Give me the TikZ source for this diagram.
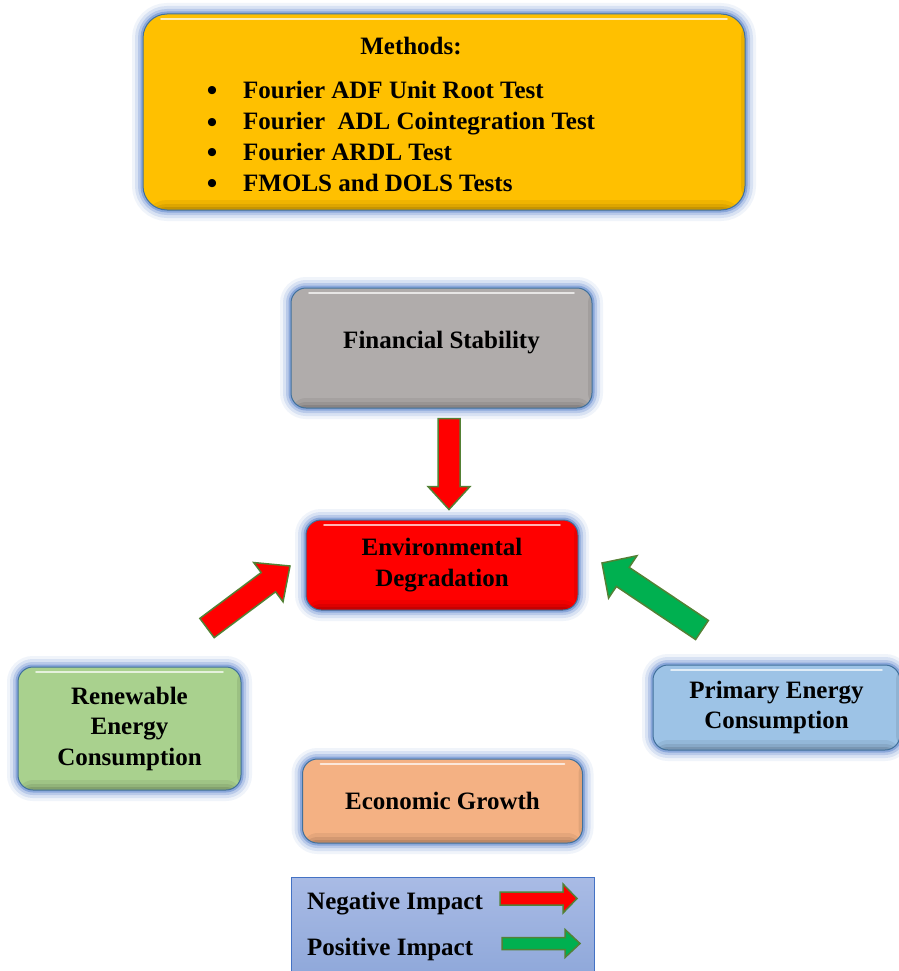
\documentclass[tikz,border=0pt]{standalone}
\usepackage{fontspec}
\setmainfont{Liberation Serif}
\usetikzlibrary{calc}
\definecolor{gold}{HTML}{FFC000}
\definecolor{stonegray}{HTML}{B0ACAB}
\definecolor{envred}{HTML}{FF0000}
\definecolor{renewgreen}{HTML}{A9D18E}
\definecolor{primblue}{HTML}{9DC3E6}
\definecolor{peach}{HTML}{F4B183}
\definecolor{glowblue}{HTML}{4472C4}
\definecolor{boxedge}{HTML}{41719C}
\definecolor{arrowedge}{HTML}{538135}
\definecolor{posgreen}{HTML}{00B050}
\definecolor{legtop}{HTML}{A9BBE5}
\definecolor{legbot}{HTML}{8FA8DA}
\tikzset{
  glowbox/.style={rectangle, rounded corners=15pt, draw=boxedge, line width=1pt, inner sep=0pt,
    preaction={draw=glowblue, line width=22pt, opacity=0.08},
    preaction={draw=glowblue, line width=16pt, opacity=0.14},
    preaction={draw=glowblue, line width=10pt, opacity=0.22},
    preaction={draw=glowblue, line width=5pt, opacity=0.4},
    path picture={
      \fill[black, opacity=0.06] ([yshift=10pt]path picture bounding box.south west) rectangle (path picture bounding box.south east);
      \fill[black, opacity=0.08] ([yshift=6pt]path picture bounding box.south west) rectangle (path picture bounding box.south east);
      \fill[black, opacity=0.10] ([yshift=3pt]path picture bounding box.south west) rectangle (path picture bounding box.south east);
      \fill[black, opacity=0.08] ([xshift=-4pt]path picture bounding box.north east) rectangle (path picture bounding box.south east);
      \draw[white, opacity=0.7, line width=1.6pt, line cap=round]
        ([xshift=18pt,yshift=-5pt]path picture bounding box.north west) -- ([xshift=-18pt,yshift=-5pt]path picture bounding box.north east);
    }},
  lbl/.style={font=\bfseries\fontsize{25}{30.5}\selectfont, align=center, text=black, inner sep=0pt},
  bul/.style={font=\bfseries\fontsize{30}{30}\selectfont, text=black, inner sep=0pt, text height=10pt, text depth=0pt, anchor=base},
  arrowline/.style={draw=arrowedge, line width=1.5pt, line join=miter},
}
\newcommand\blockarrow[6]{%
  \coordinate (ba-n) at ($(#2)!#5!(#1)$);
  \draw[arrowline, fill=#6] ($(#1)!#3!90:(#2)$) -- ($(ba-n)!#3!-90:(#1)$) -- ($(ba-n)!#4!-90:(#1)$)
    -- (#2) -- ($(ba-n)!#4!90:(#1)$) -- ($(ba-n)!#3!90:(#1)$) -- ($(#1)!#3!-90:(#2)$) -- cycle;
}
\begin{document}
\begin{tikzpicture}[x=1pt, y=-1pt]
\useasboundingbox (0,0) rectangle (898,971);

% Methods box
\node[glowbox, rounded corners=24pt, fill=gold, minimum width=602pt, minimum height=196pt] (methods) at (444,112) {};
\node[lbl] (mtitle) at (411,46) {Methods:};
\node[bul] (b1) at (212,101) {\textbullet};
\node[bul] (b2) at (212,132) {\textbullet};
\node[bul] (b3) at (212,162) {\textbullet};
\node[bul] (b4) at (212,193) {\textbullet};
\node[lbl, anchor=base west] (m1) at (243,99) {Fourier ADF Unit Root Test};
\node[lbl, anchor=base west] (m2) at (243,130) {Fourier\ \ ADL Cointegration Test};
\node[lbl, anchor=base west] (m3) at (243,160) {Fourier ARDL Test};
\node[lbl, anchor=base west] (m4) at (243,191) {FMOLS and DOLS Tests};

% Boxes
\node[glowbox, fill=stonegray, minimum width=301pt, minimum height=120pt] (fin) at (441.5,348) {};
\node[lbl] (fintext) at (441.5,343) {Financial Stability};

\node[glowbox, fill=envred, minimum width=272pt, minimum height=90pt, lbl] (env) at (442,565) {Environmental\\Degradation};

\node[glowbox, fill=renewgreen, minimum width=223pt, minimum height=123pt, lbl] (renew) at (129.5,728.5) {Renewable\\Energy\\Consumption};

\node[glowbox, fill=primblue, minimum width=247pt, minimum height=85pt, lbl] (prim) at (776.5,707.5) {Primary Energy\\Consumption};

\node[glowbox, fill=peach, minimum width=280pt, minimum height=84pt, lbl] (econ) at (442.5,801) {Economic Growth};

% Arrows
\coordinate (fs-tail) at ([yshift=-10pt]fin.south -| 449,0);
\coordinate (fs-tip) at ([yshift=10pt]env.north -| 449,0);
\blockarrow{fs-tail}{fs-tip}{11pt}{21pt}{23pt}{envred}

\coordinate (re-tail) at (207,628);
\coordinate (re-tip) at (290,566);
\blockarrow{re-tail}{re-tip}{12pt}{24.5pt}{27pt}{envred}

\coordinate (pe-tail) at (702,630);
\coordinate (pe-tip) at (602,563);
\blockarrow{pe-tail}{pe-tip}{11.5pt}{25.5pt}{25pt}{posgreen}

% Legend
\node[rectangle, draw=glowblue, line width=1pt, top color=legtop, bottom color=legbot, minimum width=302.5pt, minimum height=97.5pt, inner sep=0pt] (legend) at (442.75,926.25) {};
\node[lbl, anchor=base west] (negtext) at (307,909) {Negative Impact};
\node[lbl, anchor=base west] (postext) at (307,955) {Positive Impact};
\coordinate (neg-tail) at (500,898.5);
\coordinate (neg-tip) at (577,898.5);
\blockarrow{neg-tail}{neg-tip}{6.5pt}{14.5pt}{14pt}{envred}
\coordinate (pos-tail) at (502,943.5);
\coordinate (pos-tip) at (580,943.5);
\blockarrow{pos-tail}{pos-tip}{6pt}{14pt}{15pt}{posgreen}
\end{tikzpicture}
\end{document}
